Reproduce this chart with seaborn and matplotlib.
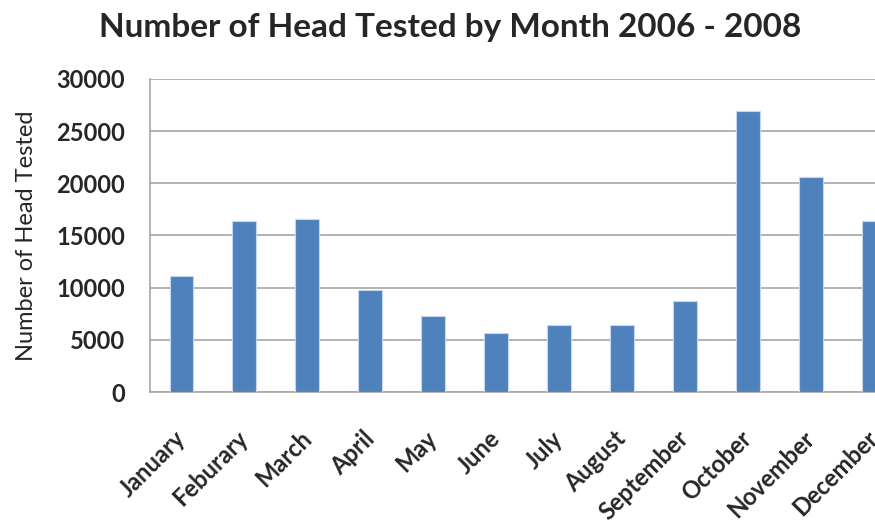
import numpy as np
import pandas as pd
import matplotlib
matplotlib.use("Agg")
import matplotlib.pyplot as plt
import matplotlib.transforms as mtransforms
import seaborn as sns

# chart data
months = ["January", "Feburary", "March", "April", "May", "June",
          "July", "August", "September", "October", "November", "December"]
head_tested = [11100, 16400, 16600, 9800, 7250, 5700,
               6400, 6400, 8700, 26900, 20600, 16400]
y_ticks = [0, 5000, 10000, 15000, 20000, 25000, 30000]

df = pd.DataFrame({"month": months, "tested": head_tested})

sns.set_style("white")
plt.rcParams['font.family'] = ['Lato', 'DejaVu Sans']

fig = plt.figure(figsize=(8.75, 5.23), dpi=100)
# axes run past the right edge, as in the (cropped) original
ax = fig.add_axes([150 / 875, 131 / 523, 755 / 875, 313 / 523])

sns.barplot(data=df, x="month", y="tested", color="#4F81BD", saturation=1,
            width=0.38, edgecolor="#C6D6EC", linewidth=0.8, ax=ax, zorder=3)

ax.set_ylim(0, 30000)
ax.set_xlim(-0.5, 11.5)
ax.set_yticks(y_ticks)
ax.set_yticklabels([str(v) for v in y_ticks], fontsize=17, fontweight="bold")
ax.yaxis.grid(True, color="#A6A6A6", linewidth=1.2, zorder=0)
ax.set_axisbelow(True)

# category boundary ticks like Excel
ax.set_xticks(np.arange(-0.5, 12, 1), minor=True)
ax.tick_params(axis="x", which="major", length=0, pad=25)
ax.tick_params(axis="x", which="minor", length=6, color="#A6A6A6", width=1.2, direction="out")
ax.tick_params(axis="y", length=6, color="#A6A6A6", width=1.2, direction="out", pad=12)
ax.set_xticklabels(months, rotation=45, ha="right", rotation_mode="anchor",
                   fontsize=17, fontweight="bold")
# nudge labels a bit left so their ends sit on the category centres
shift = mtransforms.ScaledTranslation(-8 / 100, 0, fig.dpi_scale_trans)
for lbl in ax.get_xticklabels():
    lbl.set_transform(lbl.get_transform() + shift)

for side in ["top", "right"]:
    ax.spines[side].set_visible(False)
for side in ["left", "bottom"]:
    ax.spines[side].set_color("#A6A6A6")
    ax.spines[side].set_linewidth(1.2)

ax.set_xlabel("")
ax.set_ylabel("Number of Head Tested", fontsize=17, labelpad=14)
fig.text(450 / 875, 1 - 27 / 523, "Number of Head Tested by Month 2006 - 2008",
         ha="center", va="center", fontsize=24, fontweight="bold")

fig.savefig("out.png", dpi=100)
